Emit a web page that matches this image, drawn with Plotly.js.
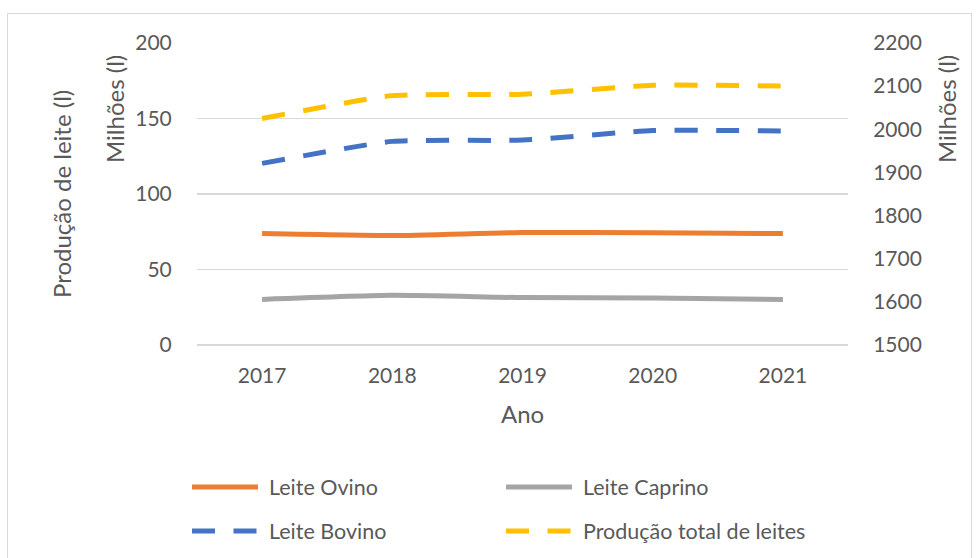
<!DOCTYPE html>
<html>
<head>
<meta charset="utf-8">
<script src="https://cdn.plot.ly/plotly-3.0.1.min.js"></script>
<style>
  html, body { margin: 0; padding: 0; background: #ffffff; }
  #wrap { position: relative; width: 979px; height: 558px; overflow: hidden; }
  #chart { width: 979px; height: 558px; }
  #frame { position: absolute; left: 7px; top: 13px; width: 965px; height: 560px;
           border: 1px solid #d9d9d9; pointer-events: none; box-sizing: border-box; }
</style>
</head>
<body>
<div id="wrap">
  <div id="chart"></div>
  <div id="frame"></div>
</div>
<script>
// ---- data ----
const years = ["2017", "2018", "2019", "2020", "2021"];
const leiteOvino = [73.8, 72.5, 74.5, 74.3, 73.8];
const leiteCaprino = [30.2, 32.9, 31.4, 31.2, 30.2];
const leiteBovino = [1921, 1972, 1975, 1997, 1996];
const producaoTotal = [2025, 2078, 2081, 2102, 2100];
const seriesNames = ["Leite Ovino", "Leite Caprino", "Leite Bovino", "Produção total de leites"];
const leftTicks = [0, 50, 100, 150, 200];
const rightTicks = [1500, 1600, 1700, 1800, 1900, 2000, 2100, 2200];
const xTitle = "Ano";
const yTitle = "Produção de leite (l)";
const unitLabel = "Milhões (l)";

// ---- layout constants ----
const W = 979, H = 558;
const M = { l: 197, r: 131, t: 43, b: 213 };
const PW = W - M.l - M.r, PH = H - M.t - M.b;
const px = x => (x - M.l) / PW;          // container px -> paper x
const py = y => 1 - (y - M.t) / PH;      // container px -> paper y

const FONT = "Lato, 'Open Sans', sans-serif";
const TXT = "#595959";
const FS = 21;      // tick labels
const FT = 24;      // titles
const FL = 21.5;    // legend
const SYM = 66;     // legend symbol length
const DASH = "23px,18.5px";
const LW = 5;

const traces = [
  { x: years, y: leiteOvino, name: seriesNames[0], type: "scatter", mode: "lines",
    line: { color: "#ED7D31", width: LW, shape: "spline", smoothing: 0.5 },
    yaxis: "y", legend: "legend" },
  { x: years, y: leiteCaprino, name: seriesNames[1], type: "scatter", mode: "lines",
    line: { color: "#A5A5A5", width: LW, shape: "spline", smoothing: 0.5 },
    yaxis: "y", legend: "legend" },
  { x: years, y: leiteBovino, name: seriesNames[2], type: "scatter", mode: "lines",
    line: { color: "#4472C4", width: LW, dash: DASH, shape: "spline", smoothing: 0.5 },
    yaxis: "y2", legend: "legend2" },
  { x: years, y: producaoTotal, name: seriesNames[3], type: "scatter", mode: "lines",
    line: { color: "#FFC000", width: LW, dash: DASH, shape: "spline", smoothing: 0.5 },
    yaxis: "y2", legend: "legend2" }
];

const legendBase = {
  orientation: "h", xref: "container", yref: "container",
  x: 187 / W, xanchor: "left", yanchor: "middle",
  itemwidth: 72, entrywidth: 227, entrywidthmode: "pixels",
  font: { family: FONT, size: FL, color: TXT },
  bgcolor: "rgba(0,0,0,0)", borderwidth: 0, traceorder: "normal"
};

const layout = {
  width: W, height: H,
  margin: M,
  paper_bgcolor: "#ffffff", plot_bgcolor: "#ffffff",
  font: { family: FONT, size: FS, color: TXT },
  showlegend: true,
  legend: Object.assign({}, legendBase, { y: 1 - 487 / H }),
  legend2: Object.assign({}, legendBase, { y: 1 - 531 / H }),
  xaxis: {
    type: "category", range: [-0.5, 4.5],
    showgrid: false, showline: false, zeroline: false,
    ticks: "outside", ticklen: 12, tickcolor: "rgba(0,0,0,0)",
    tickfont: { family: FONT, size: FS, color: TXT },
    automargin: false
  },
  yaxis: {
    range: [0, 200], tickvals: leftTicks,
    showgrid: true, gridcolor: "#d9d9d9", gridwidth: 1.3,
    zeroline: true, zerolinecolor: "#d9d9d9", zerolinewidth: 1.3,
    showline: false,
    ticks: "outside", ticklen: 20, tickcolor: "rgba(0,0,0,0)",
    tickfont: { family: FONT, size: FS, color: TXT },
    automargin: false
  },
  yaxis2: {
    range: [1500, 2200], tickvals: rightTicks,
    overlaying: "y", side: "right",
    showgrid: false, zeroline: false, showline: false,
    ticks: "outside", ticklen: 20, tickcolor: "rgba(0,0,0,0)",
    tickfont: { family: FONT, size: FS, color: TXT },
    automargin: false
  },
  annotations: [
    { text: xTitle, xref: "paper", yref: "paper",
      x: 0.5, y: py(413), xanchor: "center", yanchor: "middle",
      showarrow: false, font: { family: FONT, size: FT, color: TXT } },
    { text: yTitle, textangle: -90, xref: "paper", yref: "paper",
      x: px(61), y: py(194), xanchor: "center", yanchor: "middle",
      showarrow: false, font: { family: FONT, size: FT, color: TXT } },
    { text: unitLabel, textangle: -90, xref: "paper", yref: "paper",
      x: px(114), y: py(109), xanchor: "center", yanchor: "middle",
      showarrow: false, font: { family: FONT, size: FT, color: TXT } },
    { text: unitLabel, textangle: -90, xref: "paper", yref: "paper",
      x: px(946), y: py(109), xanchor: "center", yanchor: "middle",
      showarrow: false, font: { family: FONT, size: FT, color: TXT } }
  ]
};

Plotly.newPlot("chart", traces, layout, { displayModeBar: false, staticPlot: true })
  .then(gd => {
    // lengthen legend line samples to match the reference's long legend keys
    gd.querySelectorAll(".legendlines path").forEach(p => {
      p.setAttribute("d", "M5,0h" + SYM);
    });
  });
</script>
</body>
</html>
